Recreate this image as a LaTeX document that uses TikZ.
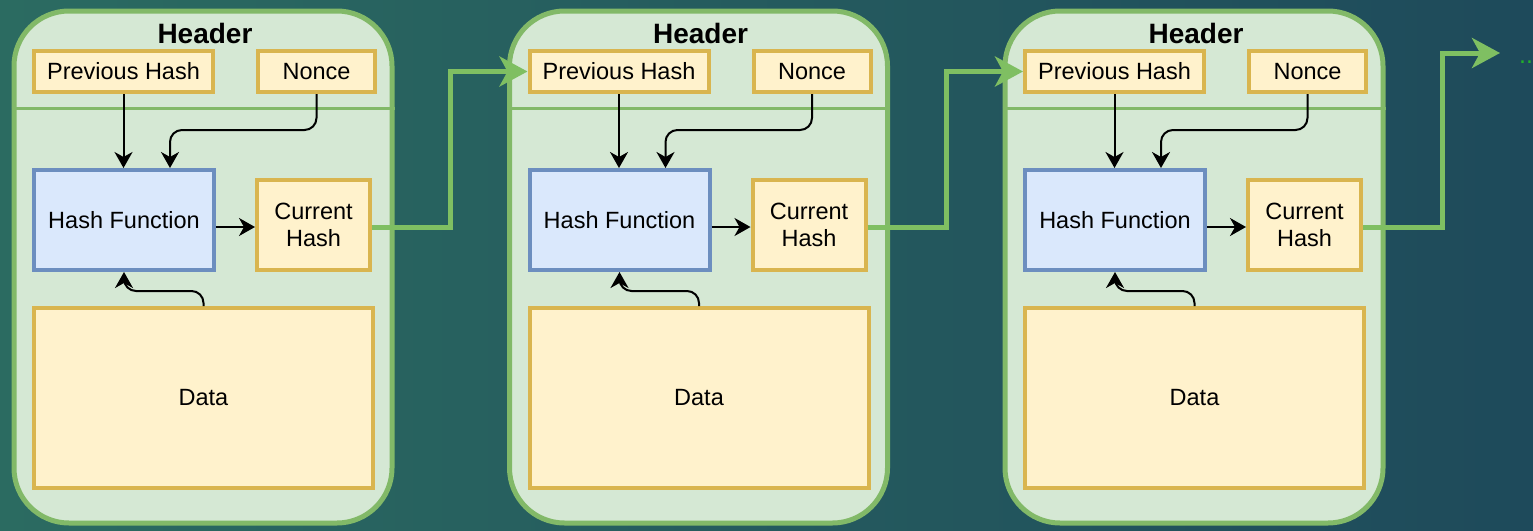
\documentclass[tikz,border=0pt]{standalone}
\usepackage{fontspec}
\setmainfont{Liberation Sans}
\usetikzlibrary{arrows.meta,calc}
\definecolor{bgL}{HTML}{2B6B61}
\definecolor{bgR}{HTML}{1E4A5B}
\definecolor{grnD}{HTML}{82B968}
\definecolor{grnF}{HTML}{D5E8D4}
\definecolor{yD}{HTML}{D9B54F}
\definecolor{yF}{HTML}{FFF2CC}
\definecolor{bD}{HTML}{6C8EBF}
\definecolor{bF}{HTML}{DAE8FC}
\definecolor{lnk}{HTML}{7FBF62}
\definecolor{dotg}{HTML}{22B02A}
\newcommand{\normtxt}{\fontsize{23.5}{27}\selectfont}
\newcommand{\hdrtxt}{\fontsize{28}{30}\selectfont\bfseries}
\begin{document}
\begin{tikzpicture}[x=1pt,y=-1pt,
  blockbox/.style={draw=grnD, fill=grnF, line width=5pt, rounded corners=55pt,
    minimum width=378pt, minimum height=512pt, inner sep=0pt},
  ybox/.style={draw=yD, fill=yF, line width=4pt, inner sep=0pt, font=\normtxt,
    align=center, text=black},
  bbox/.style={draw=bD, fill=bF, line width=4pt, inner sep=0pt, font=\normtxt,
    align=center, text=black},
  hdr/.style={font=\hdrtxt, text=black, inner sep=0pt},
  conn/.style={draw=black, line width=2pt, rounded corners=12pt,
    -{Stealth[length=16pt,width=18pt,inset=5pt]}},
  link/.style={draw=lnk, line width=5pt,
    -{Stealth[length=28pt,width=30pt,inset=8pt]}}]
\useasboundingbox (0,0) rectangle (1533,530);
\shade[left color=bgL, right color=bgR] (0,0) rectangle (1533,530);

\foreach \i/\dx in {1/0, 2/495.5, 3/991}{
  \begin{scope}[xshift=\dx pt]
    \node[blockbox] (blk\i) at (203,267) {};
    \draw[draw=grnD, line width=3pt] (blk\i.west |- 0,108) -- (blk\i.east |- 0,108);
    \node[hdr] (hdr\i) at (205,33) {Header};
    \node[ybox, minimum width=179pt, minimum height=41pt] (prev\i) at (123.5,71.5) {Previous Hash};
    \node[ybox, minimum width=117pt, minimum height=41pt] (nonce\i) at (316.5,71.5) {Nonce};
    \node[bbox, minimum width=180pt, minimum height=100pt] (hf\i) at (124,220) {Hash Function};
    \node[ybox, minimum width=113pt, minimum height=90pt] (cur\i) at (313.5,225) {Current\\Hash};
    \node[ybox, minimum width=339pt, minimum height=180pt] (data\i) at (203.5,398) {Data};
    \coordinate (nk\i) at (170,130);
    \coordinate (dk\i) at (204,291);
    \draw[conn] (prev\i.south) -- (prev\i.south |- hf\i.north);
    \draw[conn] (nonce\i.south) |- (nk\i) -- (nk\i |- hf\i.north);
    \draw[conn] (hf\i.east |- 0,227) -- (cur\i.west |- 0,227);
    \draw[conn] (data\i.north) |- (hf\i.south |- dk\i) -- (hf\i.south);
  \end{scope}
}

\coordinate (j1) at (450,0);
\coordinate (j2) at (946,0);
\coordinate (j3) at (1442,0);
\coordinate (endpt) at (1500,53);
\draw[link] (cur1.east |- 0,227) -| (j1 |- prev2.west) -- (prev2.west);
\draw[link] (cur2.east |- 0,227) -| (j2 |- prev3.west) -- (prev3.west);
\draw[link] (cur3.east |- 0,227) -| (j3 |- endpt) -- (endpt);
\node[text=dotg, font=\fontsize{25}{25}\selectfont, anchor=base west, inner sep=0pt] (more) at (1519,63) {...};
\end{tikzpicture}
\end{document}
